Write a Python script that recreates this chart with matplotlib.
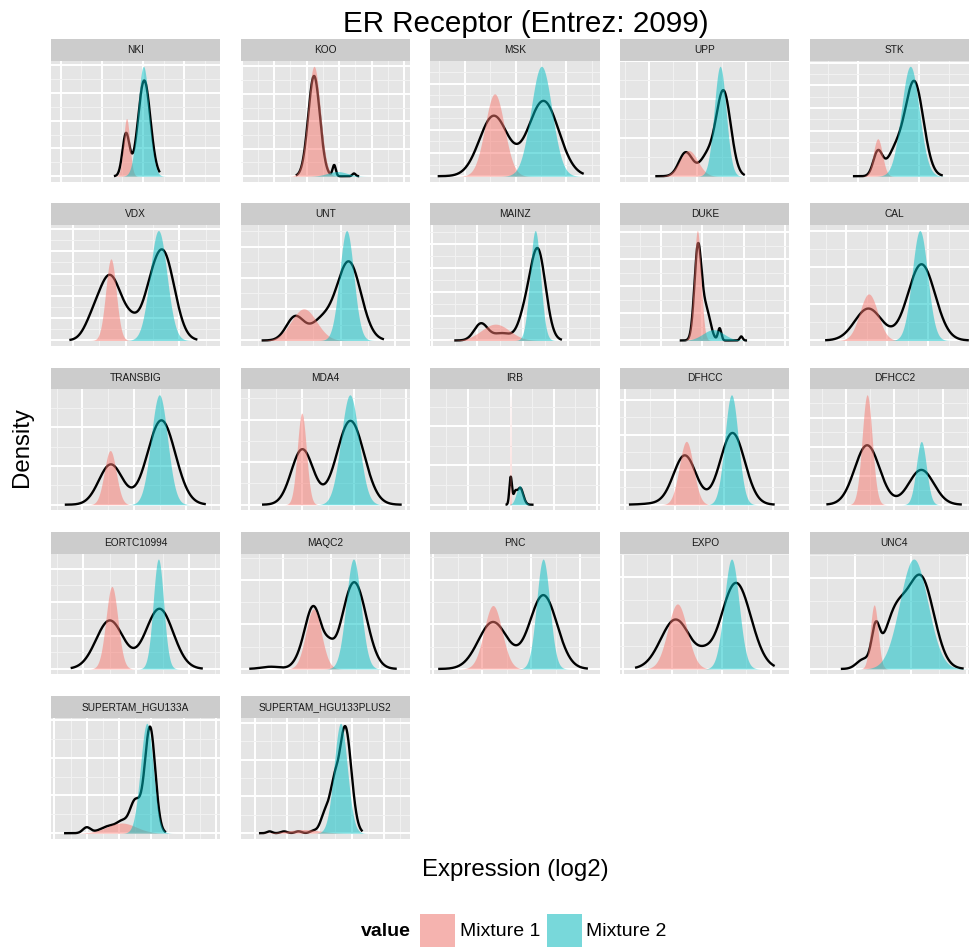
import numpy as np
import matplotlib.pyplot as plt
from matplotlib.patches import Rectangle
from matplotlib.ticker import MultipleLocator

plt.rcParams['font.family'] = ['Liberation Sans', 'DejaVu Sans']

W, H = 970, 948

datasets = ['NKI', 'KOO', 'MSK', 'UPP', 'STK',
            'VDX', 'UNT', 'MAINZ', 'DUKE', 'CAL',
            'TRANSBIG', 'MDA4', 'IRB', 'DFHCC', 'DFHCC2',
            'EORTC10994', 'MAQC2', 'PNC', 'EXPO', 'UNC4',
            'SUPERTAM_HGU133A', 'SUPERTAM_HGU133PLUS2']

# expression range covered by each dataset (x grid of the densities)
expr_min = [-0.056, -0.79, -0.52, -0.435, -0.67,
            -0.26, -0.68, -0.865, -0.785, -0.69,
            -0.458, -1.02, -0.68, -0.95, -0.59,
            -0.467, -0.717, -0.90, -0.894, -0.663,
            -0.866, -0.207]
expr_max = [3.69, 3.94, 2.50, 2.74, 1.86,
            2.62, 2.12, 2.53, 2.91, 3.04,
            2.516, 1.917, 2.88, 2.18, 2.597,
            2.44, 2.46, 2.24, 2.21, 2.076,
            3.886, 4.57]

# fitted mixture components: mean, sd and peak density
mix1_mean = [1.60, 1.23, 0.59, 0.82, 0.32,
             0.72, 0.33, 0.40, 0.886, 0.55,
             0.54, 0.0, 0.996, 0.24, 0.436,
             0.54, 0.63, 0.22, 0.106, 0.344,
             1.08, 1.5]
mix1_sd = [0.076, 0.195, 0.19, 0.185, 0.074,
           0.098, 0.23, 0.31, 0.086, 0.217,
           0.115, 0.087, 0.006, 0.143, 0.105,
           0.113, 0.16, 0.183, 0.196, 0.069,
           0.45, 0.5]
mix1_peak = [2.08, 4.0, 3.56, 0.67, 1.65,
             3.66, 1.01, 0.68, 4.07, 1.27,
             1.40, 2.15, 2.8, 1.81, 3.79,
             2.47, 1.35, 1.42, 1.42, 1.41,
             0.27, 0.1]

mix2_mean = [2.01, 1.95, 1.51, 1.47, 0.855,
             1.61, 1.11, 1.28, 1.27, 1.79,
             1.49, 0.92, 1.21, 1.16, 1.56,
             1.42, 1.455, 1.245, 1.2, 1.05,
             1.86, 2.66]
mix2_sd = [0.138, 0.30, 0.206, 0.123, 0.147,
           0.159, 0.129, 0.116, 0.25, 0.188,
           0.159, 0.17, 0.08, 0.137, 0.105,
           0.099, 0.152, 0.134, 0.15, 0.25,
           0.197, 0.207]
mix2_peak = [3.96, 0.17, 4.75, 2.86, 4.84,
             4.93, 3.51, 4.58, 0.4, 3.0,
             2.84, 2.58, 0.49, 3.14, 2.18,
             3.29, 2.47, 2.46, 2.4, 2.42,
             2.91, 2.99]

# overall density of the samples, as kernels (centre, sd, height)
overall_kernels = [
    [(1.585, 0.085, 1.52), (2.03, 0.15, 3.45)],
    [(1.23, 0.18, 3.65), (1.85, 0.05, 0.4), (2.46, 0.05, 0.1)],
    [(0.57, 0.28, 2.6), (1.55, 0.30, 3.25)],
    [(0.76, 0.14, 0.62), (1.2, 0.15, 0.5), (1.54, 0.15, 2.2)],
    [(0.32, 0.075, 1.05), (0.6, 0.13, 1.0), (0.92, 0.15, 4.15)],
    [(0.35, 0.15, 0.5), (0.70, 0.22, 2.9), (1.12, 0.15, 0.6),
     (1.42, 0.15, 0.9), (1.70, 0.21, 3.9)],
    [(0.17, 0.16, 0.75), (0.65, 0.2, 0.6), (1.15, 0.22, 2.5)],
    [(0.08, 0.15, 0.7), (0.55, 0.2, 0.3), (1.05, 0.15, 0.9),
     (1.34, 0.17, 3.7)],
    [(0.9, 0.085, 3.45), (1.1, 0.1, 1.1), (1.42, 0.04, 0.45),
     (1.94, 0.035, 0.15)],
    [(0.54, 0.33, 0.87), (1.83, 0.33, 2.08)],
    [(0.55, 0.23, 1.04), (1.53, 0.27, 2.18)],
    [(0.01, 0.21, 1.3), (0.93, 0.26, 1.97)],
    [(1.0, 0.03, 0.7), (1.1, 0.04, 0.25), (1.22, 0.07, 0.43)],
    [(-0.3, 0.3, 0.04), (0.21, 0.23, 1.4), (1.18, 0.25, 2.05)],
    [(0.436, 0.26, 2.05), (1.56, 0.26, 1.2)],
    [(0.5, 0.26, 1.45), (1.44, 0.26, 1.8)],
    [(-0.25, 0.2, 0.05), (0.35, 0.15, 0.15), (0.63, 0.17, 1.38),
     (0.95, 0.1, 0.25), (1.47, 0.25, 1.95)],
    [(0.22, 0.3, 1.05), (1.25, 0.28, 1.65)],
    [(0.07, 0.3, 1.08), (0.65, 0.15, 0.15), (1.29, 0.3, 1.88)],
    [(0.15, 0.12, 0.2), (0.37, 0.07, 0.75), (0.72, 0.2, 1.15),
     (1.18, 0.23, 1.98)],
    [(0.0, 0.12, 0.15), (0.75, 0.3, 0.2), (1.1, 0.15, 0.2),
     (1.5, 0.17, 0.85), (1.96, 0.16, 2.8)],
    [(0.45, 0.08, 0.05), (0.9, 0.1, 0.05), (1.35, 0.1, 0.05),
     (1.8, 0.1, 0.06), (2.2, 0.15, 0.6), (2.45, 0.12, 0.9),
     (2.8, 0.19, 2.9)],
]
# sample range of each dataset (where the overall density is drawn)
sample_min = [1.29, 0.67, -0.53, 0.13, -0.09,
              -0.06, -0.44, -0.51, 0.46, -0.51,
              -0.34, -0.76, 0.88, -0.93, -0.41,
              -0.24, -0.70, -0.90, -0.75, -0.25,
              -0.70, 0.12]
sample_max = [2.41, 2.62, 2.34, 1.98, 1.39,
              2.34, 1.79, 1.87, 2.08, 2.98,
              2.39, 1.91, 1.53, 2.04, 2.4,
              2.26, 2.35, 2.16, 2.07, 1.94,
              2.45, 3.34]

legend_labels = ['Mixture 1', 'Mixture 2']
fill_colors = ['#F8766D', '#00BFC4']


def gauss(x, mu, sd, peak):
    return peak * np.exp(-0.5 * ((x - mu) / sd) ** 2)


def rect(left, top, width, height):
    return [left / W, 1 - (top + height) / H, width / W, height / H]


fig = plt.figure(figsize=(W / 100, H / 100), dpi=100)

panel_w, strip_h, panel_h = 169, 21.8, 120.9
col_step, row_step = 189.75, 164.25

for i, name in enumerate(datasets):
    row, col = divmod(i, 5)
    left = 51 + col * col_step
    top = 39 + row * row_step

    strip = fig.add_axes(rect(left, top, panel_w, strip_h))
    strip.set_facecolor('#CCCCCC')
    strip.set_xticks([])
    strip.set_yticks([])
    for s in strip.spines.values():
        s.set_visible(False)
    strip.text(0.5, 0.5, name, ha='center', va='center', fontsize=7.3,
               color='#1A1A1A', transform=strip.transAxes)

    ax = fig.add_axes(rect(left, top + strip_h, panel_w, panel_h))
    ax.set_facecolor('#E5E5E5')
    for s in ax.spines.values():
        s.set_visible(False)

    x = np.linspace(expr_min[i], expr_max[i], 3000)
    m1 = gauss(x, mix1_mean[i], mix1_sd[i], mix1_peak[i])
    m2 = gauss(x, mix2_mean[i], mix2_sd[i], mix2_peak[i])
    xs = np.linspace(sample_min[i], sample_max[i], 1500)
    dens = np.zeros_like(xs)
    for mu, sd, h in overall_kernels[i]:
        dens += gauss(xs, mu, sd, h)

    # density line first, the translucent mixtures are laid over it
    ax.plot(xs, dens, color='black', lw=1.7, solid_capstyle='butt',
            zorder=2)
    ax.fill_between(x, 0, m1, color=fill_colors[0], alpha=0.5, lw=0,
                    zorder=3)
    ax.fill_between(x, 0, m2, color=fill_colors[1], alpha=0.5, lw=0,
                    zorder=3)

    xr = expr_max[i] - expr_min[i]
    ax.set_xlim(expr_min[i] - 0.05 * xr, expr_max[i] + 0.05 * xr)
    ymax = max(m1.max(), m2.max(), dens.max())
    ax.set_ylim(-0.05 * ymax, 1.05 * ymax)

    ax.xaxis.set_major_locator(MultipleLocator(1))
    ax.xaxis.set_minor_locator(MultipleLocator(0.5))
    ax.yaxis.set_major_locator(MultipleLocator(1))
    ax.yaxis.set_minor_locator(MultipleLocator(0.5))
    ax.grid(which='minor', color='#F2F2F2', lw=0.7)
    ax.grid(which='major', color='white', lw=1.4)
    ax.set_axisbelow(True)
    ax.tick_params(which='both', length=0, labelbottom=False,
                   labelleft=False)

fig.text(526 / W, 1 - 31.7 / H, 'ER Receptor (Entrez: 2099)',
         ha='center', va='baseline', fontsize=21.3)
fig.text(22 / W, 1 - 447 / H, 'Density', rotation=90,
         ha='center', va='center', fontsize=17.3)
fig.text(515 / W, 1 - 870 / H, 'Expression (log2)',
         ha='center', va='center', fontsize=17.3)

# legend along the bottom
fig.text(361 / W, 1 - 931 / H, 'value', ha='left', va='center',
         fontsize=14, fontweight='bold')
key_left = [420, 546.7]
text_left = [460, 586]
for lab, colr, kx, tx in zip(legend_labels, fill_colors, key_left, text_left):
    fig.patches.append(Rectangle((kx / W, 1 - 947 / H), 35 / W, 33 / H,
                                 transform=fig.transFigure,
                                 facecolor='#F2F2F2', lw=0))
    fig.patches.append(Rectangle((kx / W, 1 - 947 / H), 35 / W, 33 / H,
                                 transform=fig.transFigure,
                                 facecolor=colr, alpha=0.5, lw=0))
    fig.text(tx / W, 1 - 931 / H, lab, ha='left', va='center', fontsize=14)

fig.savefig('out.png', dpi=100)
